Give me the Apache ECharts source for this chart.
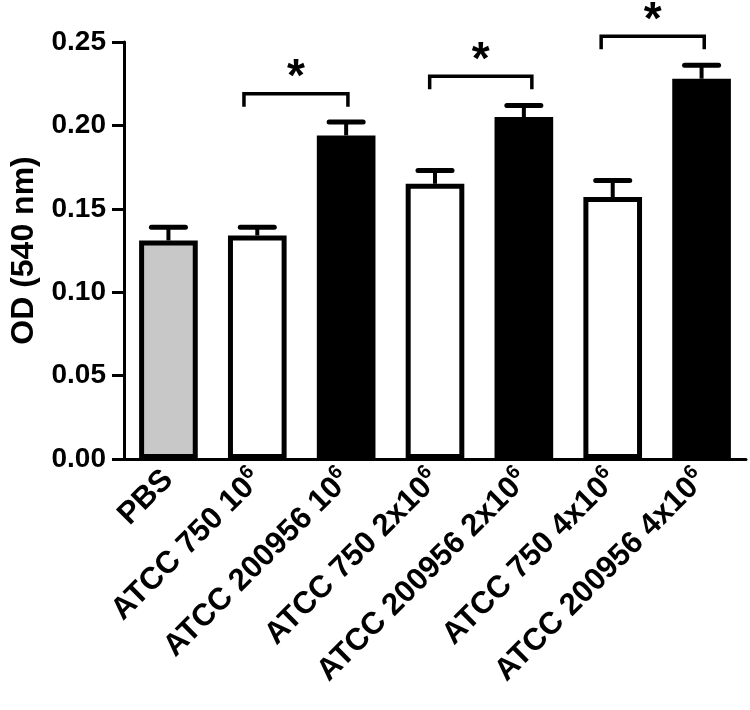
<!DOCTYPE html>
<html>
<head>
<meta charset="utf-8">
<script src="https://cdn.jsdelivr.net/npm/echarts@6/dist/echarts.min.js"></script>
<style>
  html, body { margin: 0; padding: 0; background: #fff; }
  #chart { width: 750px; height: 710px; }
</style>
</head>
<body>
<div id="chart"></div>
<script>
// OD values
const categories = ['PBS', 'ATCC 750 10^6', 'ATCC 200956 10^6', 'ATCC 750 2x10^6',
  'ATCC 200956 2x10^6', 'ATCC 750 4x10^6', 'ATCC 200956 4x10^6'];
const means = [0.131, 0.134, 0.194, 0.165, 0.205, 0.157, 0.228];
const errTop = [0.139, 0.139, 0.202, 0.173, 0.212, 0.167, 0.236];
const fills = ['#c8c8c8', '#ffffff', '#000000', '#ffffff', '#000000', '#ffffff', '#000000'];
// significance brackets: [left end, right end (in category units), y level]
const brackets = [[0.85, 2.02, 0.219], [2.94, 4.09, 0.2295], [4.87, 6.03, 0.2535]];
const yTicks = [0, 0.05, 0.1, 0.15, 0.2, 0.25];

const FONT = 'Liberation Sans';
const chart = echarts.init(document.getElementById('chart'));

chart.setOption({
  animation: false,
  grid: { left: 117, right: 4, top: 42, bottom: 251, containLabel: false },
  xAxis: {
    type: 'category',
    data: categories,
    boundaryGap: true,
    axisLine: { lineStyle: { color: '#000', width: 3 } },
    axisTick: { alignWithLabel: true, length: 10, lineStyle: { color: '#000', width: 3 } },
    axisLabel: {
      interval: 0,
      rotate: 45,
      margin: 16,
      color: '#000',
      formatter: function (v) {
        return v.replace(/\^(\d+)/, '{sup|$1}').replace(/^([^{]+)/, '{n|$1}');
      },
      rich: {
        n: { fontFamily: FONT, fontWeight: 'bold', fontSize: 31, color: '#000' },
        sup: { fontFamily: FONT, fontWeight: 'bold', fontSize: 20, color: '#000', padding: [0, 0, 18, 0] }
      }
    }
  },
  yAxis: {
    type: 'value',
    min: yTicks[0],
    max: yTicks[yTicks.length - 1],
    interval: 0.05,
    name: 'OD (540 nm)',
    nameLocation: 'middle',
    nameRotate: 90,
    nameGap: 84,
    nameTextStyle: { fontFamily: FONT, fontWeight: 'bold', fontSize: 32, color: '#000' },
    splitLine: { show: false },
    axisLine: { show: true, lineStyle: { color: '#000', width: 3 } },
    axisTick: { show: true, length: 12, lineStyle: { color: '#000', width: 3 } },
    axisLabel: {
      margin: 18,
      color: '#000',
      fontFamily: FONT,
      fontWeight: 'bold',
      fontSize: 28,
      formatter: function (v) { return v.toFixed(2); }
    }
  },
  series: [
    {
      type: 'bar',
      barWidth: '66%',
      data: means.map(function (v, i) {
        return { value: v, itemStyle: { color: fills[i], borderColor: '#000', borderWidth: 5 } };
      }),
      z: 2
    },
    {
      // error bars (upper only)
      type: 'custom',
      z: 3,
      data: means.map(function (v, i) { return [i, v, errTop[i]]; }),
      renderItem: function (params, api) {
        const base = api.coord([api.value(0), api.value(1)]);
        const top = api.coord([api.value(0), api.value(2)]);
        const half = 17;
        return {
          type: 'group',
          children: [
            { type: 'line', shape: { x1: base[0], y1: base[1], x2: top[0], y2: top[1] },
              style: { stroke: '#000', lineWidth: 4 } },
            { type: 'line', shape: { x1: top[0] - half, y1: top[1], x2: top[0] + half, y2: top[1] },
              style: { stroke: '#000', lineWidth: 5, lineCap: 'round' } }
          ]
        };
      }
    },
    {
      // significance brackets with stars
      type: 'custom',
      z: 4,
      clip: false,
      data: brackets,
      renderItem: function (params, api) {
        const origin = api.coord([0, api.value(2)]);
        const band = api.size([1, 0])[0];
        const xa = origin[0] + api.value(0) * band;
        const xb = origin[0] + api.value(1) * band;
        const y = origin[1];
        const drop = 13;
        return {
          type: 'group',
          children: [
            { type: 'polyline', shape: { points: [[xa, y + drop], [xa, y], [xb, y], [xb, y + drop]] },
              style: { stroke: '#000', lineWidth: 3.5, fill: null } },
            { type: 'text', x: (xa + xb) / 2, y: y + 8,
              style: { text: '*', fontFamily: FONT, fontWeight: 'bold', fontSize: 46, fill: '#000',
                align: 'center', verticalAlign: 'bottom' } }
          ]
        };
      }
    }
  ]
});
</script>
</body>
</html>
